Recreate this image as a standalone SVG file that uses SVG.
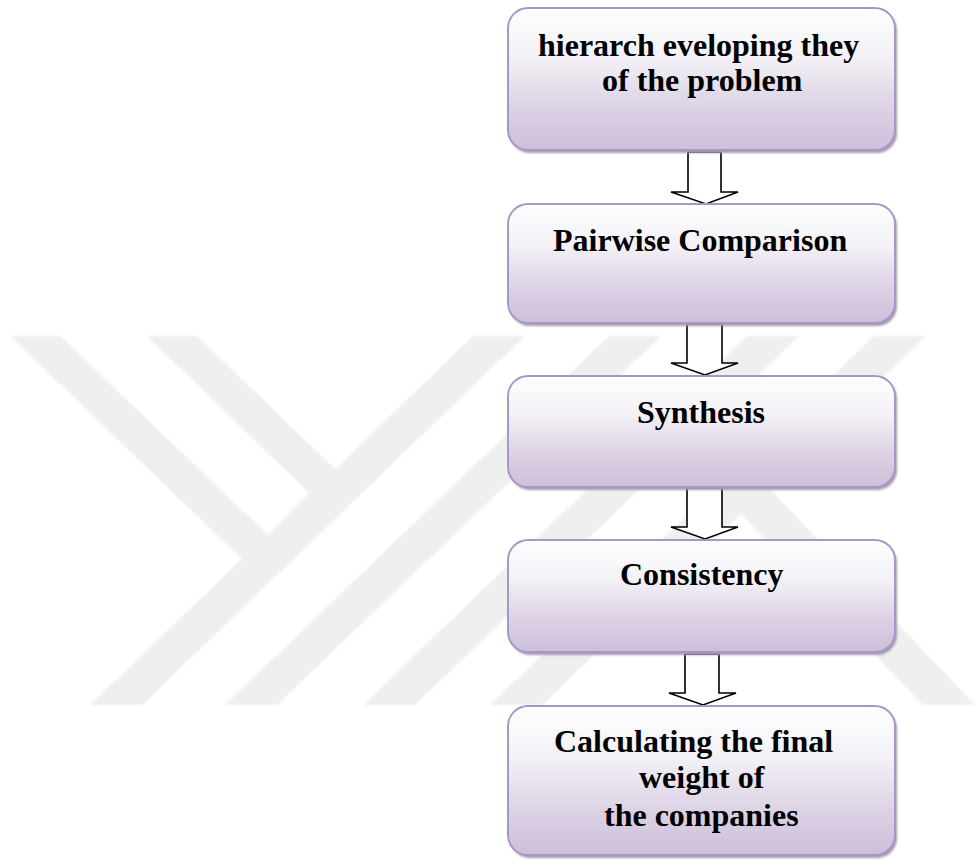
<svg xmlns="http://www.w3.org/2000/svg" width="979" height="866" viewBox="0 0 979 866">
  <defs>
    <linearGradient id="boxFill" x1="0" y1="0" x2="0" y2="1">
      <stop offset="0" stop-color="#fefefe"/>
      <stop offset="0.35" stop-color="#f3f1f6"/>
      <stop offset="0.7" stop-color="#dcd2e4"/>
      <stop offset="1" stop-color="#cdbfda"/>
    </linearGradient>
    <filter id="soft" x="-5%" y="-5%" width="110%" height="110%">
      <feGaussianBlur stdDeviation="1.2"/>
    </filter>
    <filter id="wm" x="-5%" y="-5%" width="110%" height="110%">
      <feGaussianBlur stdDeviation="0.8"/>
    </filter>
  </defs>
  <style>
    .wm { fill: #efefef; }
    .shadow { fill: #a59bad; }
    .box { fill: url(#boxFill); stroke: #a996c9; stroke-width: 2; }
    .lbl { font-family: "Liberation Serif", "Times New Roman", serif; font-weight: bold; font-size: 32px; fill: #000000; }
    .arrow { fill: #ffffff; stroke: #000000; stroke-width: 1.6; stroke-linejoin: miter; }
  </style>
  <rect x="0" y="0" width="979" height="866" fill="#ffffff"/>

  <g id="watermark" filter="url(#wm)">
    <polygon class="wm" points="10,336 60,336 268,535 309,493 147,336 197,336 335,469 473,336 525,336 142,705 90,705 242,559"/>
    <polygon class="wm" points="225,705 277,705 661,336 609,336"/>
    <polygon class="wm" points="363,705 415,705 799,336 747,336"/>
    <polygon class="wm" points="490,705 542,705 926,336 874,336"/>
    <polygon class="wm" points="768,487 975,705 923,705 741,514"/>
  </g>

  <g id="connectors">
    <polygon class="arrow" points="688,152 721,152 721,192 738,192 706,204 671,192 688,192"/>
    <polygon class="arrow" points="687,324 722,324 722,363 738,363 705,375 671,363 687,363"/>
    <polygon class="arrow" points="687,488 722,488 722,527 738,527 705,539 671,527 687,527"/>
    <polygon class="arrow" points="685,654 719,654 719,693 736,693 703,705 669,693 685,693"/>
  </g>

  <g id="node1">
    <rect class="shadow" x="510" y="11" width="387" height="142" rx="20" filter="url(#soft)"/>
    <rect class="box" x="508" y="8" width="387" height="142" rx="20"/>
    <text class="lbl" x="538" y="56">hierarch eveloping they</text>
    <text class="lbl" x="602" y="91">of the problem</text>
  </g>

  <g id="node2">
    <rect class="shadow" x="510" y="207" width="387" height="119" rx="20" filter="url(#soft)"/>
    <rect class="box" x="508" y="204" width="387" height="119" rx="20"/>
    <text class="lbl" x="553" y="251">Pairwise Comparison</text>
  </g>

  <g id="node3">
    <rect class="shadow" x="510" y="379" width="387" height="111" rx="20" filter="url(#soft)"/>
    <rect class="box" x="508" y="376" width="387" height="111" rx="20"/>
    <text class="lbl" x="637" y="423">Synthesis</text>
  </g>

  <g id="node4">
    <rect class="shadow" x="510" y="543" width="387" height="112" rx="20" filter="url(#soft)"/>
    <rect class="box" x="508" y="540" width="387" height="112" rx="20"/>
    <text class="lbl" x="620" y="585">Consistency</text>
  </g>

  <g id="node5">
    <rect class="shadow" x="510" y="709" width="387" height="149" rx="20" filter="url(#soft)"/>
    <rect class="box" x="508" y="706" width="387" height="149" rx="20"/>
    <text class="lbl" x="554" y="752">Calculating the final</text>
    <text class="lbl" x="639" y="788">weight of</text>
    <text class="lbl" x="604" y="826">the companies</text>
  </g>
</svg>
